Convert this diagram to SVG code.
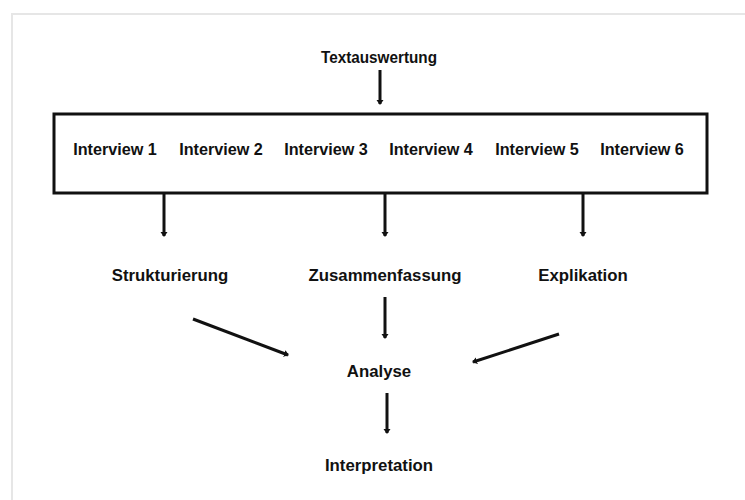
<svg xmlns="http://www.w3.org/2000/svg" width="745" height="500" viewBox="0 0 745 500">
<defs>
<style>
.t{font-family:"Liberation Sans",Arial,sans-serif;font-weight:bold;font-size:16.8px;fill:#111;text-anchor:middle}
.i{font-size:16.2px}
.c{stroke:#111;stroke-width:3;fill:none;marker-end:url(#ah)}
</style>
<marker id="ah" markerUnits="userSpaceOnUse" markerWidth="8" markerHeight="8" refX="4" refY="3.5" orient="auto">
<path d="M0,0 L5,3.5 L0,7 Z" fill="#111"/>
</marker>
</defs>
<rect width="745" height="500" fill="#fff"/>
<path d="M12,500 V14 H745" fill="none" stroke="#e6e6e6" stroke-width="2"/>
<g id="textauswertung"><text class="t" x="379" y="63" font-size="17" textLength="116" lengthAdjust="spacingAndGlyphs">Textauswertung</text></g>
<g id="interviews">
<rect x="54" y="114" width="653" height="79" fill="#fff" stroke="#111" stroke-width="3"/>
<text class="t i" x="115" y="155">Interview 1</text>
<text class="t i" x="221" y="155">Interview 2</text>
<text class="t i" x="326" y="155">Interview 3</text>
<text class="t i" x="431" y="155">Interview 4</text>
<text class="t i" x="537" y="155">Interview 5</text>
<text class="t i" x="642" y="155">Interview 6</text>
</g>
<g id="strukturierung"><text class="t" x="170" y="281">Strukturierung</text></g>
<g id="zusammenfassung"><text class="t" x="385" y="281">Zusammenfassung</text></g>
<g id="explikation"><text class="t" x="583" y="281">Explikation</text></g>
<g id="analyse"><text class="t" x="379" y="377">Analyse</text></g>
<g id="interpretation"><text class="t" x="379" y="471">Interpretation</text></g>
<g id="connectors">
<line class="c" x1="380" y1="70" x2="380" y2="104"/>
<line class="c" x1="164" y1="193" x2="164" y2="236"/>
<line class="c" x1="385" y1="193" x2="385" y2="236"/>
<line class="c" x1="583" y1="193" x2="583" y2="236"/>
<line class="c" x1="193" y1="319" x2="288" y2="355"/>
<line class="c" x1="385" y1="297" x2="385" y2="338"/>
<line class="c" x1="559" y1="334" x2="473" y2="362"/>
<line class="c" x1="387" y1="393" x2="387" y2="433"/>
</g>
</svg>
